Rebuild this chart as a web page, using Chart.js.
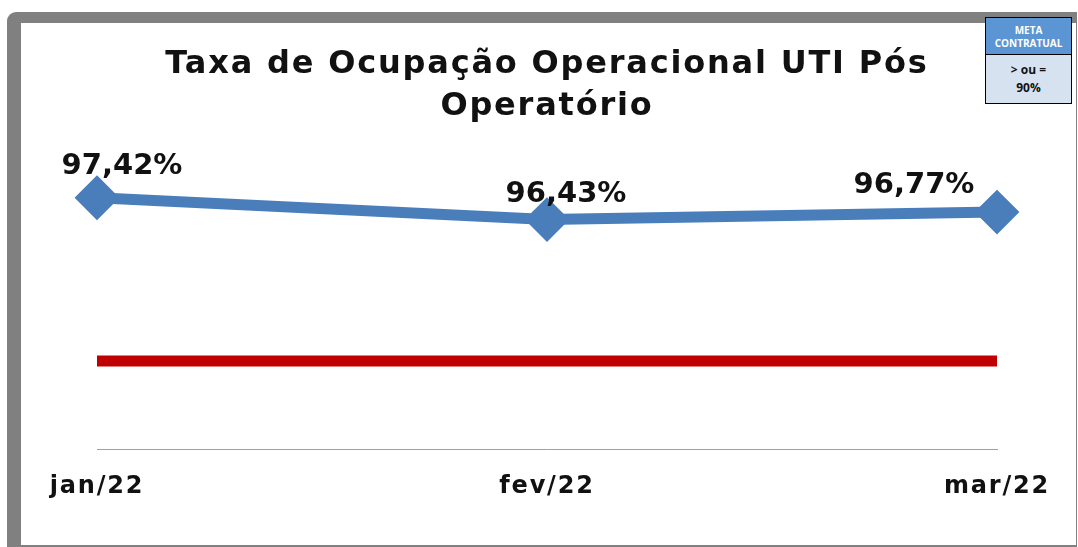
<!DOCTYPE html>
<html>
<head>
<meta charset="utf-8">
<script src="https://cdn.jsdelivr.net/npm/chart.js@4"></script>
<style>
  body{margin:0;background:#fff;width:1078px;height:547px;overflow:hidden;position:relative;font-family:"DejaVu Sans",sans-serif}
  .frame{position:absolute;left:7px;top:12px;width:1070px;height:540px;background:#808080;border-top-left-radius:9px}
  .inner{position:absolute;left:14px;top:11px;width:1055px;height:522px;background:#fff}
  .meta{position:absolute;left:985px;top:17px;width:85px;height:85px;border:1px solid #000;font-family:"Open Sans",sans-serif;font-weight:bold;text-align:center}
  .meta .top{background:#5b95d3;color:#fff;height:37px;font-size:10px;line-height:13px;padding-top:6px;box-sizing:border-box;border-bottom:1px solid #000}
  .meta .bot{background:#d7e2f1;color:#111;height:48px;font-size:12px;line-height:18px;padding-top:6px;box-sizing:border-box}
</style>
</head>
<body>
<div class="frame"><div class="inner"><canvas id="chart" width="1055" height="522"></canvas></div></div>
<div class="meta"><div class="top">META<br>CONTRATUAL</div><div class="bot">&gt; ou =<br>90%</div></div>
<script>
const meses=["jan/22","fev/22","mar/22"]
const taxa=[97.42,96.43,96.77]
const meta=[90,90,90]

// offsets of the value labels from each point (like excel did it)
const labelOffsets=[[25,-31],[19,-25],[-83,-27]]

// excel text in the original is a bit wider
const spacing={
  id:"spacing",
  beforeDraw(chart){ chart.ctx.letterSpacing="1.8px" }
}

const valueLabels={
  id:"valueLabels",
  afterDatasetsDraw(chart){
    const ctx=chart.ctx
    const pts=chart.getDatasetMeta(0).data
    ctx.save()
    ctx.letterSpacing="0px"
    ctx.font="bold 29px 'DejaVu Sans'"
    ctx.fillStyle="#111"
    ctx.textAlign="center"
    ctx.textBaseline="middle"
    pts.forEach((p,i)=>{
      const txt=taxa[i].toFixed(2).replace(".",",")+"%"
      ctx.fillText(txt,p.x+labelOffsets[i][0],p.y+labelOffsets[i][1])
    })
    ctx.restore()
  }
}

new Chart("chart",{
  type:"line",
  data:{
    labels:meses,
    datasets:[{
      data:taxa,
      borderColor:"#4a7ebb",
      backgroundColor:"#4a7ebb",
      borderWidth:11,
      pointStyle:"rectRot",
      pointRadius:21,
      pointBorderWidth:2,
      pointBorderColor:"#4a7ebb",
      pointBackgroundColor:"#4a7ebb",
      clip:false
    },{
      data:meta,
      borderColor:"#c00000",
      borderWidth:11,
      pointRadius:0,
      clip:false
    }]
  },
  options:{
    responsive:false,
    animation:false,
    layout:{padding:{left:76,right:79,top:0,bottom:21.2}},
    plugins:{
      legend:{display:false},
      tooltip:{enabled:false},
      title:{
        display:true,
        text:["Taxa de Ocupação Operacional UTI Pós","Operatório"],
        color:"#111",
        font:{family:"DejaVu Sans",size:32,weight:"bold",lineHeight:1.3125},
        padding:{top:21,bottom:13}
      }
    },
    scales:{
      x:{
        offset:false,
        grid:{display:false,drawTicks:false},
        border:{display:true,color:"#a0a0a0",width:1},
        ticks:{color:"#111",padding:23,font:{family:"DejaVu Sans",size:24,weight:"bold"}}
      },
      y:{display:false,min:86,max:100}
    }
  },
  plugins:[spacing,valueLabels]
})
</script>
</body>
</html>
